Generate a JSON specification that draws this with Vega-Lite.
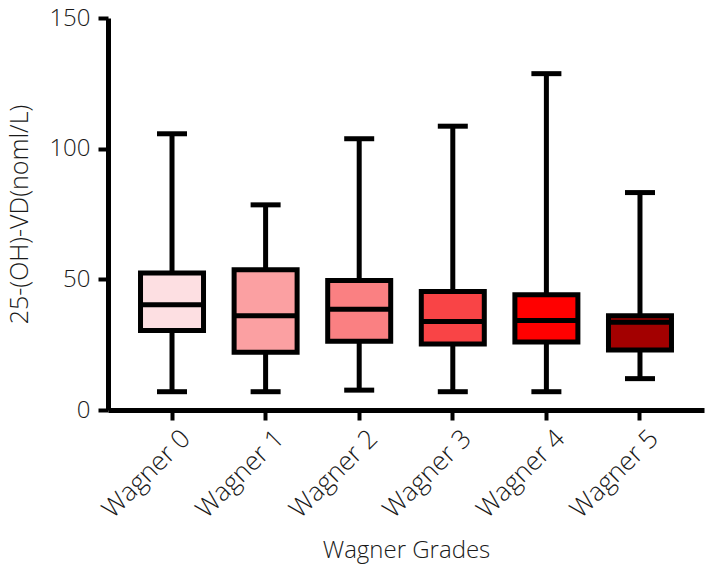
{
  "$schema": "https://vega.github.io/schema/vega-lite/v6.json",
  "width": 596,
  "height": 392,
  "autosize": {"type": "none"},
  "padding": {"left": 108, "top": 18, "right": 5, "bottom": 160},
  "background": "white",
  "config": {
    "view": {"stroke": null},
    "font": "Open Sans",
    "axis": {"labelFont": "Open Sans", "titleFont": "Open Sans", "labelFontWeight": 300, "titleFontWeight": 300, "labelColor": "#1a1a1a", "titleColor": "#1a1a1a", "domainColor": "black", "tickColor": "black", "grid": false}
  },
  "data": {
    "values": [
      {"grade": "Wagner 0", "min": 7.0, "q1": 30.4, "median": 40.3, "q3": 52.4, "max": 105.7, "color": "#FDDFE2"},
      {"grade": "Wagner 1", "min": 7.0, "q1": 22.1, "median": 36.1, "q3": 53.7, "max": 78.5, "color": "#FBA0A2"},
      {"grade": "Wagner 2", "min": 7.6, "q1": 26.3, "median": 38.6, "q3": 49.6, "max": 103.8, "color": "#FA8082"},
      {"grade": "Wagner 3", "min": 7.0, "q1": 25.3, "median": 33.9, "q3": 45.3, "max": 108.6, "color": "#F94446"},
      {"grade": "Wagner 4", "min": 7.0, "q1": 26.0, "median": 34.2, "q3": 44.1, "max": 128.7, "color": "#FF0000"},
      {"grade": "Wagner 5", "min": 12.0, "q1": 23.0, "median": 33.6, "q3": 36.1, "max": 83.2, "color": "#A30000"}
    ]
  },
  "encoding": {
    "x": {
      "field": "grade",
      "type": "nominal",
      "sort": null,
      "scale": {"type": "band", "paddingInner": 0, "paddingOuter": 0.184},
      "axis": {
        "title": "Wagner Grades",
        "titleFontSize": 24,
        "titlePadding": 16,
        "labelAngle": -45,
        "labelAlign": "right",
        "labelBaseline": "top",
        "labelFontSize": 26,
        "labelPadding": 5,
        "labelOffset": 5,
        "domainWidth": 5,
        "tickWidth": 4,
        "tickSize": 10
      }
    }
  },
  "layer": [
    {
      "mark": {"type": "rule", "strokeWidth": 5, "color": "black"},
      "encoding": {
        "y": {
          "field": "min",
          "type": "quantitative",
          "scale": {"domain": [0, 150], "nice": false},
          "axis": {
            "title": "25-(OH)-VD(noml/L)",
            "titleFontSize": 25,
            "titlePadding": 16,
            "values": [0, 50, 100, 150],
            "labelFontSize": 24,
            "labelPadding": 8,
            "domainWidth": 5,
            "tickWidth": 4,
            "tickSize": 10
          }
        },
        "y2": {"field": "max"}
      }
    },
    {
      "mark": {"type": "tick", "thickness": 5, "size": 30, "color": "black", "opacity": 1},
      "encoding": {"y": {"field": "max", "type": "quantitative"}}
    },
    {
      "mark": {"type": "tick", "thickness": 5, "size": 30, "color": "black", "opacity": 1},
      "encoding": {"y": {"field": "min", "type": "quantitative"}}
    },
    {
      "mark": {"type": "bar", "size": 63, "stroke": "black", "strokeWidth": 5, "opacity": 1},
      "encoding": {
        "y": {"field": "q1", "type": "quantitative"},
        "y2": {"field": "q3"},
        "fill": {"field": "color", "type": "nominal", "scale": null}
      }
    },
    {
      "mark": {"type": "tick", "thickness": 5, "size": 63, "color": "black", "opacity": 1},
      "encoding": {"y": {"field": "median", "type": "quantitative"}}
    }
  ]
}
